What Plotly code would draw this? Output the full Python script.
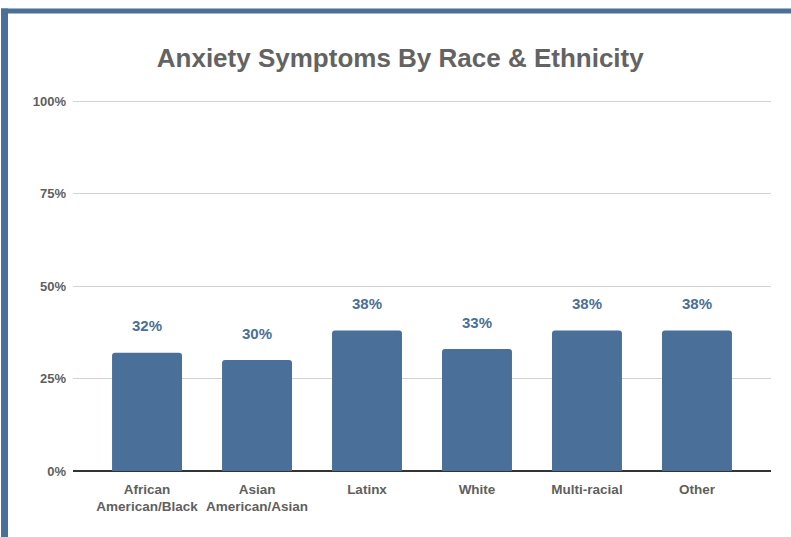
import plotly.graph_objects as go

categories = ["African<br>American/Black", "Asian<br>American/Asian", "Latinx", "White", "Multi-racial", "Other"]
values = [32, 30, 38, 33, 38, 38]
value_labels = ["32%", "30%", "38%", "33%", "38%", "38%"]
tick_vals = [0, 25, 50, 75, 100]
tick_text = ["0%", "25%", "50%", "75%", "100%"]

BLUE = "#4a6f99"
FONT = "Liberation Sans, Arial, sans-serif"

x_idx = list(range(len(categories)))

fig = go.Figure()
fig.add_trace(go.Bar(
    x=x_idx, y=values, width=0.636,
    marker=dict(color=BLUE, line=dict(width=0), cornerradius=3),
    hoverinfo="skip",
))

annotations = []
for i, (v, t) in enumerate(zip(values, value_labels)):
    annotations.append(dict(
        x=i, y=v, xref="x", yref="y", text="<b>" + t + "</b>",
        showarrow=False, yanchor="middle", yshift=27,
        font=dict(family=FONT, size=15, color=BLUE),
    ))

# plot area geometry (pixels); y range extends slightly above 100 so the top gridline shows
YMAX = 102
L, W = 73, 698
BOTTOM = 471
H = 370 * YMAX / 100
T = BOTTOM - H

def px(x):
    return (x - L) / W
def py(y):
    return (BOTTOM - y) / H

shapes = [
    dict(type="rect", xref="paper", yref="paper", x0=px(1), x1=px(8), y0=py(537), y1=py(8),
         fillcolor=BLUE, line=dict(width=0), layer="above"),
    dict(type="rect", xref="paper", yref="paper", x0=px(1), x1=px(791), y0=py(13), y1=py(8),
         fillcolor=BLUE, line=dict(width=0), layer="above"),
]

fig.update_layout(
    width=791, height=537,
    margin=dict(l=L, r=791 - L - W, t=T, b=537 - BOTTOM, autoexpand=False),
    paper_bgcolor="white", plot_bgcolor="white",
    showlegend=False,
    title=dict(text="<b>Anxiety Symptoms By Race & Ethnicity</b>", x=0.506, xanchor="center",
               y=1 - 58 / 537, yanchor="middle",
               font=dict(family=FONT, size=26, color="#636363")),
    xaxis=dict(
        range=[-0.673, 5.673], tickmode="array", tickvals=x_idx,
        ticktext=["<b>" + c + "</b>" for c in categories],
        showgrid=False, zeroline=False, showline=False, ticks="",
        ticklabelstandoff=8,
        tickfont=dict(family=FONT, size=13.5, color="#5f5f5f"),
    ),
    yaxis=dict(
        range=[0, YMAX], tickmode="array", tickvals=tick_vals,
        ticktext=["<b>" + t + "</b>" for t in tick_text],
        showgrid=True, gridcolor="#d3d3d3", gridwidth=1,
        zeroline=True, zerolinecolor="#333333", zerolinewidth=1.5,
        showline=False, ticks="", ticklabelstandoff=6,
        tickfont=dict(family=FONT, size=13, color="#5f5f5f"),
    ),
    annotations=annotations,
    shapes=shapes,
)

fig.write_html("out.html", config={"displayModeBar": False},
               post_script="document.body.style.margin='0';document.body.style.overflow='hidden';")
